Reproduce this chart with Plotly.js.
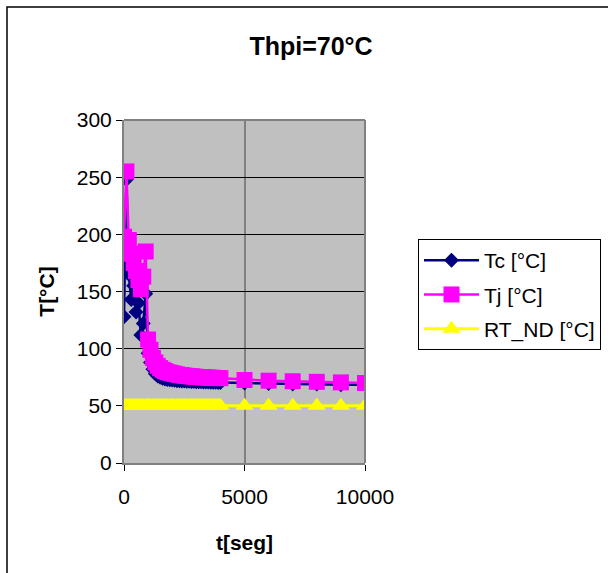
<!DOCTYPE html>
<html>
<head>
<meta charset="utf-8">
<script src="https://cdn.plot.ly/plotly-3.0.1.min.js"></script>
<style>
html,body{margin:0;padding:0;background:#fff;}
#chart{width:608px;height:573px;}
</style>
</head>
<body>
<div id="chart"></div>
<script>
// time in seconds
var tSeg = [0,100,200,300,400,500,600,700,800,900,1000,1100,1200,1300,1400,1500,1600,1700,1800,1900,2000,2100,2200,2300,2400,2500,2600,2700,2800,2900,3000,3100,3200,3300,3400,3500,3600,3700,3800,3900,4000,5000,6000,7000,8000,9000,10000];
var tc = [128,248,165,143,155,132,140,112,122,148,96,88,82,78,76,75,74,73.5,73,72.8,72.5,72.3,72,72,71.8,71.6,71.5,71.4,71.3,71.2,71.1,71,71,70.9,70.8,70.8,70.7,70.6,70.6,70.5,70.5,70,69.5,69,69,68.5,68.5];
var tj = [198,255,195,183,175,168,160,152,163,185,108,99,92,88,85,83,81.5,80.5,79.5,79,78.5,78,77.5,77,76.8,76.5,76.2,76,75.8,75.6,75.4,75.2,75,74.9,74.8,74.7,74.6,74.5,74.4,74.3,74.2,72.6,72,71.5,71,70.5,70];
var rtnd = [50,50,50,50,50,50,50,50,50,50,50,50,50,50,50,50,50,50,50,50,50,50,50,50,50,50,50,50,50,50,50,50,50,50,50,50,50,50,50,50,50,50,50,50,50,50,50];
var seriesNames = ['Tc [°C]','Tj [°C]','RT_ND [°C]'];
var xTicks = [0,5000,10000];
var yTicks = [0,50,100,150,200,250,300];

var FONT = 'Liberation Sans, Arial, sans-serif';

var traces = [
  {x:tSeg, y:tc, name:seriesNames[0], type:'scatter', mode:'lines+markers', legendgroup:'a',
   line:{color:'#000080', width:2.5}, marker:{symbol:'diamond', size:11.5, color:'#000080'}},
  {x:tSeg, y:tj, name:seriesNames[1], type:'scatter', mode:'lines+markers', legendgroup:'b',
   line:{color:'#FF00FF', width:2.5}, marker:{symbol:'square', size:16, color:'#FF00FF'}},
  {x:tSeg, y:rtnd, name:seriesNames[2], type:'scatter', mode:'lines+markers', legendgroup:'c',
   line:{color:'#FFFF00', width:3}, marker:{symbol:'triangle-up', size:16, color:'#FFFF00'}}
];

// plot area pixel box: x 124..365, y 120..463
var L=124, R=365, T=120, B=463;
function px(v){return (v-L)/(R-L);}
function py(v){return (B-v)/(B-T);}

var layout = {
  width:608, height:573,
  margin:{l:L, r:608-R, t:T, b:573-B, pad:0, autoexpand:false},
  paper_bgcolor:'#ffffff',
  plot_bgcolor:'#C0C0C0',
  font:{family:FONT, size:21, color:'#000'},
  showlegend:true,
  title:{text:'<b>Thpi=70°C</b>', font:{family:FONT, size:25, color:'#000'},
         xref:'container', yref:'container', x:311/608, xanchor:'center', y:1-46/573, yanchor:'middle'},
  xaxis:{range:[0,10000], tickvals:xTicks, ticktext:xTicks.map(String), ticks:'outside', ticklen:6,
         tickcolor:'#000', showline:true, linecolor:'#808080', linewidth:2, mirror:false,
         showgrid:true, gridcolor:'#808080', gridwidth:2, zeroline:false,
         ticklabelstandoff:8, tickfont:{size:21},
         title:{text:'<b>t[seg]</b>', font:{size:21}, standoff:28}},
  yaxis:{range:[0,300], tickvals:yTicks, ticks:'outside', ticklen:6, tickcolor:'#000',
         showline:true, linecolor:'#808080', linewidth:2,
         showgrid:true, gridcolor:'#000000', gridwidth:1, zeroline:false,
         ticklabelstandoff:0, tickfont:{size:21},
         title:{text:'<b>T[°C]</b>', font:{size:21}, standoff:16}},
  legend:{x:px(418), y:py(239), xanchor:'left', yanchor:'top',
          bgcolor:'#ffffff', bordercolor:'#000', borderwidth:1,
          font:{size:21}, tracegroupgap:4, itemwidth:55},
  shapes:[
    {type:'rect', xref:'paper', yref:'paper', x0:px(R), x1:px(R), y0:0, y1:1, line:{color:'#808080', width:2}},
    {type:'line', xref:'paper', yref:'paper', x0:0, x1:1, y0:1, y1:1, line:{color:'#808080', width:2}},
    {type:'rect', xref:'paper', yref:'paper', x0:px(7), x1:px(640), y0:py(7), y1:py(600), line:{color:'#000', width:1.5}, layer:'below'}
  ]
};

Plotly.newPlot('chart', traces, layout, {displayModeBar:false, staticPlot:true});
</script>
</body>
</html>
